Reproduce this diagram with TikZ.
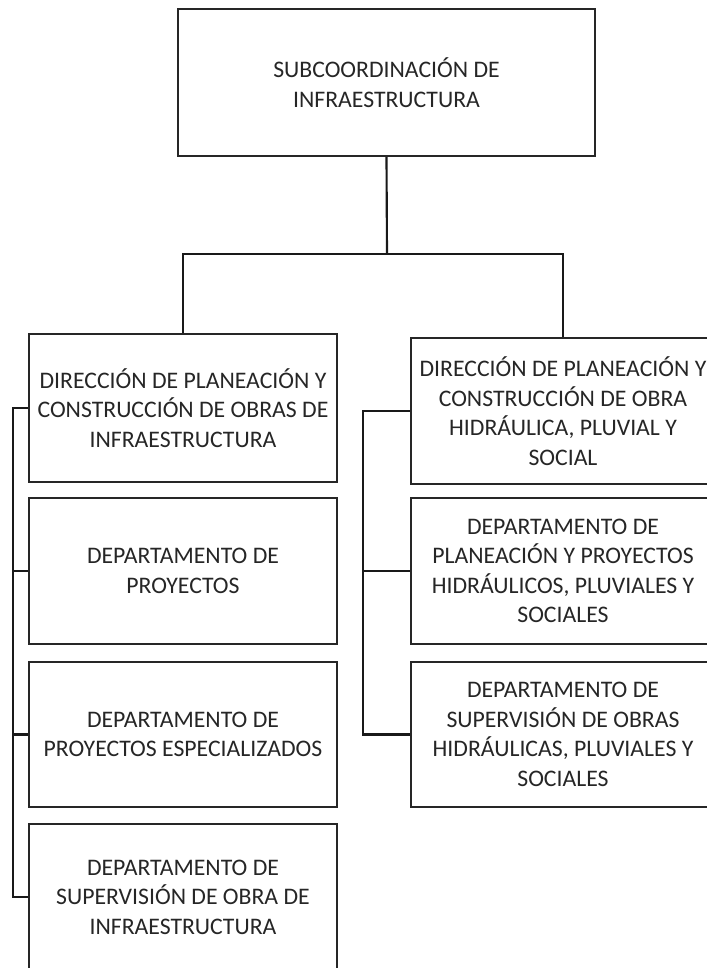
\documentclass[tikz,border=0pt]{standalone}
\usepackage{fontspec}
\setmainfont{Carlito}
\begin{document}
\begin{tikzpicture}[x=0.75pt,y=-0.75pt,
  orgbox/.style={draw=black!85, line width=1.6pt, fill=white, rectangle, inner sep=0pt,
    align=center, text=black!85, font=\fontsize{17.8}{22.1}\selectfont},
  link/.style={draw=black!90, line width=1.6pt}]
\useasboundingbox (0,0) rectangle (707,968);
\fill[white] (0,0) rectangle (707,968);
% top
\node[orgbox, minimum width=312.75pt, minimum height=110.25pt] (top) at (386.5,82.5)
  {SUBCOORDINACIÓN DE\\INFRAESTRUCTURA};
% left column
\node[orgbox, minimum width=231pt, minimum height=111pt] (L1) at (183,408)
  {DIRECCIÓN DE PLANEACIÓN Y\\CONSTRUCCIÓN DE OBRAS DE\\INFRAESTRUCTURA};
\node[orgbox, minimum width=231pt, minimum height=109.5pt] (L2) at (183,571)
  {DEPARTAMENTO DE\\PROYECTOS};
\node[orgbox, minimum width=231pt, minimum height=108.75pt] (L3) at (183,734.5)
  {DEPARTAMENTO DE\\PROYECTOS ESPECIALIZADOS};
\node[orgbox, minimum width=231pt, minimum height=109.5pt] (L4) at (183,897)
  {DEPARTAMENTO DE\\SUPERVISIÓN DE OBRA DE\\INFRAESTRUCTURA};
% right column
\node[orgbox, minimum width=228pt, minimum height=109.5pt] (R1) at (563,411)
  {DIRECCIÓN DE PLANEACIÓN Y\\CONSTRUCCIÓN DE OBRA\\HIDRÁULICA, PLUVIAL Y\\SOCIAL};
\node[orgbox, minimum width=228pt, minimum height=109.5pt] (R2) at (563,571)
  {DEPARTAMENTO DE\\PLANEACIÓN Y PROYECTOS\\HIDRÁULICOS, PLUVIALES Y\\SOCIALES};
\node[orgbox, minimum width=228pt, minimum height=108.75pt] (R3) at (563,734.5)
  {DEPARTAMENTO DE\\SUPERVISIÓN DE OBRAS\\HIDRÁULICAS, PLUVIALES Y\\SOCIALES};
% connectors
\coordinate (bus) at (387,254);
\coordinate (lb) at (13,0);
\coordinate (rb) at (363,0);
\draw[link] (top.south) -- (bus);
\draw[link] (L1.north) |- (bus) -| (R1.north);
\draw[link] (L1.west) -- (L1.west -| lb) -- (L4.west -| lb) -- (L4.west);
\draw[link] (L2.west) -- (L2.west -| lb);
\draw[link] (L3.west) -- (L3.west -| lb);
\draw[link] (R1.west) -- (R1.west -| rb) -- (R3.west -| rb) -- (R3.west);
\draw[link] (R2.west) -- (R2.west -| rb);
\end{tikzpicture}
\end{document}
